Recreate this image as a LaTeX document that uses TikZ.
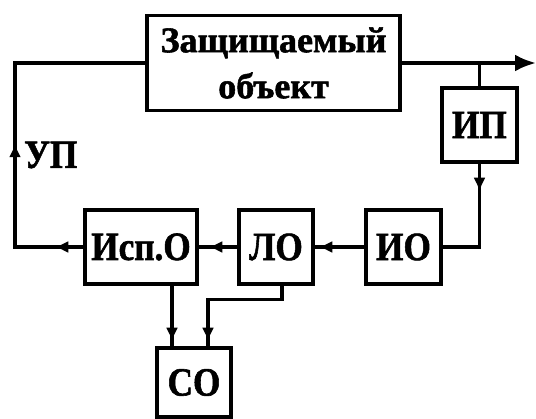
\documentclass[tikz,border=0pt]{standalone}
\usepackage{fontspec}
\setmainfont{Liberation Serif}[BoldFeatures={FakeBold=1.5}]
\usetikzlibrary{arrows.meta,decorations.markings}
\newcommand{\lbl}[1]{\scalebox{0.88}[1]{#1}}
\tikzset{
  blk/.style={draw, line width=3.5pt, inner sep=0pt, font=\bfseries\fontsize{40}{40}\selectfont},
  wire/.style={line width=3.5pt},
  arrowat/.style={postaction={decorate, decoration={markings, mark=at position #1 with {\arrow{Latex[length=14pt,width=12pt]}}}}},
}
\begin{document}
\begin{tikzpicture}[x=1pt, y=-1pt]
\useasboundingbox (0,0) rectangle (536,419);
\node[blk, minimum width=253pt, minimum height=95pt, align=center, font=\bfseries\fontsize{36}{46}\selectfont] (obj) at (273.5,63) {Защищаемый\\объект};
\node[blk, minimum width=75pt, minimum height=74pt] (ip) at (479.5,125) {\lbl{ИП}};
\node[blk, minimum width=75pt, minimum height=74pt] (io) at (403.5,247) {\lbl{ИО}};
\node[blk, minimum width=74pt, minimum height=74pt] (lo) at (276,247) {\lbl{ЛО}};
\node[blk, minimum width=112pt, minimum height=74pt] (isp) at (141,247) {\lbl{Исп.О}};
\node[blk, minimum width=74pt, minimum height=69pt] (so) at (194,382.5) {\lbl{СО}};
\coordinate (lc) at (15,247);
\coordinate (tc) at (15,63);
\coordinate (out) at (536,63);
\node[font=\bfseries\fontsize{40}{40}\selectfont, anchor=west, inner sep=0pt] (up) at (24,155) {\lbl{УП}};
% loops
\draw[wire, arrowat=29pt, arrowat=172pt] (isp.west) -- (lc) -- (tc) -- (obj.west);
\draw[wire, -{Latex[length=21pt,width=17pt]}] (obj.east) -- (out);
\draw[wire] (ip.north |- obj.east) -- (ip.north);
\draw[wire, arrowat=28pt] (ip.south) -- (ip.south |- io.east) -- (io.east);
\draw[wire, arrowat=46pt] (io.west) -- (lo.east);
\draw[wire, arrowat=29pt] (lo.west) -- (isp.east);
\draw[wire, arrowat=56pt] ([xshift=31pt]isp.south) -- ([xshift=-22pt]so.north);
\draw[wire, arrowat=130pt] ([xshift=6pt]lo.south) -- ++(0,14) -| ([xshift=14pt]so.north);
\end{tikzpicture}
\end{document}
